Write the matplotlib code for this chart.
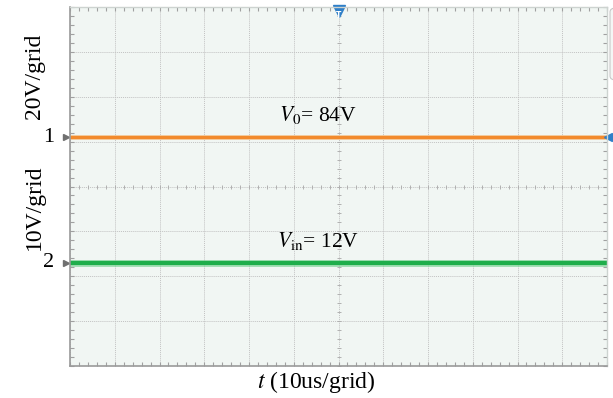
import numpy as np
import matplotlib.pyplot as plt
from matplotlib.patches import FancyBboxPatch

# odczyt z oscyloskopu: napiecie wyjsciowe (CH1) i wejsciowe (CH2)
t_us = [0, 120]            # os czasu, 10 us na dzialke, 12 dzialek
v0 = 84                    # V, CH1
vin = 12                   # V, CH2
ch1_scale, ch1_offset = 20, 62   # V/dzialka, przesuniecie
ch2_scale, ch2_offset = 10, 29

ch1_trace = [v0, v0]
ch2_trace = [vin, vin]

plt.rcParams['font.family'] = ['Liberation Serif', 'DejaVu Serif']
plt.rcParams['mathtext.fontset'] = 'stix'

W, H = 613, 398
fig = plt.figure(figsize=(W / 100, H / 100), dpi=100)
ax = fig.add_axes([70 / W, 32 / H, 537 / W, 359 / H])
ax.set_facecolor('#f1f6f3')
ax.set_xlim(0, 120)
ax.set_ylim(-4, 4)

# siatka
ax.set_xticks(np.arange(0, 121, 10))
ax.set_yticks(np.arange(-4, 5, 1))
ax.grid(True, color='#c2c2c2', linestyle=(0, (1, 1)), linewidth=0.7)
ax.set_xticks(np.arange(0, 121, 2), minor=True)
ax.set_yticks(np.arange(-4, 4.01, 0.2), minor=True)
ax.tick_params(which='both', direction='in', length=3, width=0.8, color='#a0a0a0',
               top=True, right=True, labelbottom=False, labelleft=False)
for side in ['left', 'bottom']:
    ax.spines[side].set_color('#9a9a9a')
    ax.spines[side].set_linewidth(1.2)
for side in ['top', 'right']:
    ax.spines[side].set_color('#cdd3d0')
    ax.spines[side].set_linewidth(1.0)

# osie srodkowe z podzialka
xm = np.arange(0, 121, 2)
ax.plot(xm, np.zeros_like(xm), ls='none', marker='|', ms=3.5, mew=0.7, color='#b0b0b0')
ym = np.arange(-4, 4.01, 0.2)
ax.plot(np.full_like(ym, 60), ym, ls='none', marker='_', ms=3.5, mew=0.7, color='#b0b0b0')

# przebiegi
y1 = (np.array(ch1_trace) - ch1_offset) / ch1_scale
y2 = (np.array(ch2_trace) - ch2_offset) / ch2_scale
ax.plot(t_us, y1, color='#f7b06a', lw=3.6, alpha=0.6, solid_capstyle='butt')
ax.plot(t_us, y1, color='#f28a2c', lw=2.2, solid_capstyle='butt')
ax.plot(t_us, y2, color='#6fd08c', lw=5.0, alpha=0.6, solid_capstyle='butt')
ax.plot(t_us, y2, color='#1fae4b', lw=3.0, solid_capstyle='butt')

ax.text(55.5, y1[0] + 0.25, r'$V_{\mathrm{0}}$= 84V', ha='center', va='bottom', fontsize=15.5)
ax.text(55.5, y2[0] + 0.25, r'$V_{\mathrm{in}}$= 12V', ha='center', va='bottom', fontsize=15.5)

# znaczniki kanalow
for lvl, name in [(y1[0], '1'), (y2[0], '2')]:
    ax.plot([-1.0], [lvl], marker='>', ms=4, color='#707070', clip_on=False)
    ax.text(-3.6, lvl, name, ha='right', va='center', fontsize=16)

# znacznik wyzwalania i poziomu
ax.plot([60], [3.9], marker='v', ms=9, color='#2f7fc8', clip_on=False)
ax.text(60, 3.8, 'T', ha='center', va='center', fontsize=5.5, color='white',
        fontweight='bold', family='DejaVu Sans')
ax.plot([120.3], [y1[0]], marker='<', ms=6, color='#2f7fc8', clip_on=False)

# boczny panel przy prawej krawedzi
fig.patches.append(FancyBboxPatch((610 / W, 1 - 80 / H), 20 / W, 72 / H,
                                  boxstyle='round,pad=0,rounding_size=0.01',
                                  transform=fig.transFigure, fc='#f4f6f5',
                                  ec='#c8c8c8', lw=0.8))

fig.text(34 / W, 1 - 76 / H, '20V/grid', rotation=90, ha='center', va='center', fontsize=17)
fig.text(34 / W, 1 - 207 / H, '10V/grid', rotation=90, ha='center', va='center', fontsize=17)
fig.text(316 / W, 1 - 382 / H, r'$t$ (10us/grid)', ha='center', va='center', fontsize=17)

fig.savefig('out.png', dpi=100, facecolor='white')
